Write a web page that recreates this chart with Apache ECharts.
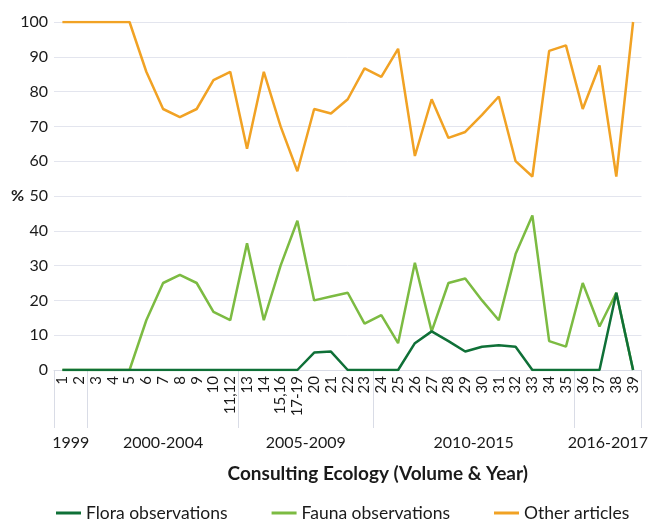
<!DOCTYPE html>
<html>
<head>
<meta charset="utf-8">
<script src="https://cdn.jsdelivr.net/npm/echarts@6/dist/echarts.min.js"></script>
<style>html,body{margin:0;padding:0;background:#fff}#c{width:651px;height:521px}</style>
</head>
<body>
<div id="c"></div>
<script>
var categories = ['1','2','3','4','5','6','7','8','9','10','11,12','13','14','15,16','17-19','20','21','22','23','24','25','26','27','28','29','30','31','32','33','34','35','36','37','38','39'];
var floraValues = [0,0,0,0,0,0,0,0,0,0,0,0,0,0,0,5,5.3,0,0,0,0,7.7,11.1,8.3,5.3,6.7,7.1,6.7,0,0,0,0,0,22.2,0];
var faunaValues = [0,0,0,0,0,14.3,25,27.3,25,16.7,14.3,36.4,14.3,30,42.9,20,21.1,22.2,13.3,15.8,7.7,30.8,11.1,25,26.3,20,14.3,33.3,44.4,8.3,6.7,25,12.5,22.2,0];
var otherValues = [100,100,100,100,100,85.7,75,72.7,75,83.3,85.7,63.6,85.7,70,57.1,75,73.7,77.8,86.7,84.2,92.3,61.5,77.8,66.7,68.4,73.3,78.6,60,55.6,91.7,93.3,75,87.5,55.6,100];
var groupNames = ['1999','2000-2004','2005-2009','2010-2015','2016-2017'];
var groupSizes = [2,9,8,12,4];
var yMin = 0, yMax = 100, yStep = 10;

// build half-slot axis for group labels
var halfData = [];
var total = categories.length * 2;
for (var i = 0; i <= total; i++) halfData.push('');
var tickIdx = {0: true};
var pos = 0;
groupNames.forEach(function (g, k) {
  var s = pos, e = pos + groupSizes[k] * 2;
  halfData[(s + e) / 2] = g;
  tickIdx[e] = true;
  pos = e;
});

var FONT = 'Lato';
var chart = echarts.init(document.getElementById('c'));
chart.setOption({
  animation: false,
  textStyle: {fontFamily: FONT},
  grid: {left: 54, right: 6, top: 22, bottom: 151, containLabel: false},
  legend: {
    top: 499, left: 51, itemWidth: 25, itemHeight: 3, itemGap: 44, icon: 'rect',
    textStyle: {fontFamily: FONT, fontSize: 17.5, color: '#1a1a1a'},
    data: ['Flora observations', 'Fauna observations', 'Other articles']
  },
  xAxis: [{
    type: 'category', data: categories, boundaryGap: true,
    axisLine: {lineStyle: {color: '#d9dce6', width: 1}},
    axisTick: {length: 38, lineStyle: {color: '#d9dce6'}},
    axisLabel: {rotate: 90, interval: 0, fontSize: 15, color: '#1a1a1a', margin: 6, fontFamily: FONT},
    name: 'Consulting Ecology (Volume & Year)', nameLocation: 'middle', nameGap: 94,
    nameTextStyle: {fontWeight: 'bold', fontSize: 19, color: '#1a1a1a', fontFamily: FONT, padding: [0, 0, 0, 60]}
  }, {
    type: 'category', data: halfData, boundaryGap: false, position: 'bottom',
    axisLine: {show: false},
    axisTick: {show: true, length: 58, interval: function (idx) { return !!tickIdx[idx]; }, lineStyle: {color: '#d9dce6'}},
    axisLabel: {interval: function (idx, val) { return val !== ''; }, fontSize: 16, color: '#1a1a1a', margin: 65, fontFamily: FONT},
    splitLine: {show: false}
  }],
  yAxis: {
    type: 'value', min: yMin, max: yMax, interval: yStep,
    axisLine: {show: false}, axisTick: {show: false},
    axisLabel: {fontSize: 16, color: '#1a1a1a', margin: 6, fontFamily: FONT},
    splitLine: {lineStyle: {color: '#e3e5ee', width: 1}},
    name: '%', nameLocation: 'middle', nameRotate: 0, nameGap: 30, nameMoveOverlap: false,
    nameTextStyle: {fontWeight: 'bold', fontSize: 16, color: '#1a1a1a', fontFamily: FONT}
  },
  series: [
    {name: 'Flora observations', type: 'line', data: floraValues, symbol: 'none', lineStyle: {color: '#0f7037', width: 2.5}, itemStyle: {color: '#0f7037'}, z: 4},
    {name: 'Fauna observations', type: 'line', data: faunaValues, symbol: 'none', lineStyle: {color: '#7cbb42', width: 2.5}, itemStyle: {color: '#7cbb42'}, z: 3},
    {name: 'Other articles', type: 'line', data: otherValues, symbol: 'none', lineStyle: {color: '#f1a224', width: 2.5}, itemStyle: {color: '#f1a224'}, z: 2}
  ]
});
</script>
</body>
</html>
